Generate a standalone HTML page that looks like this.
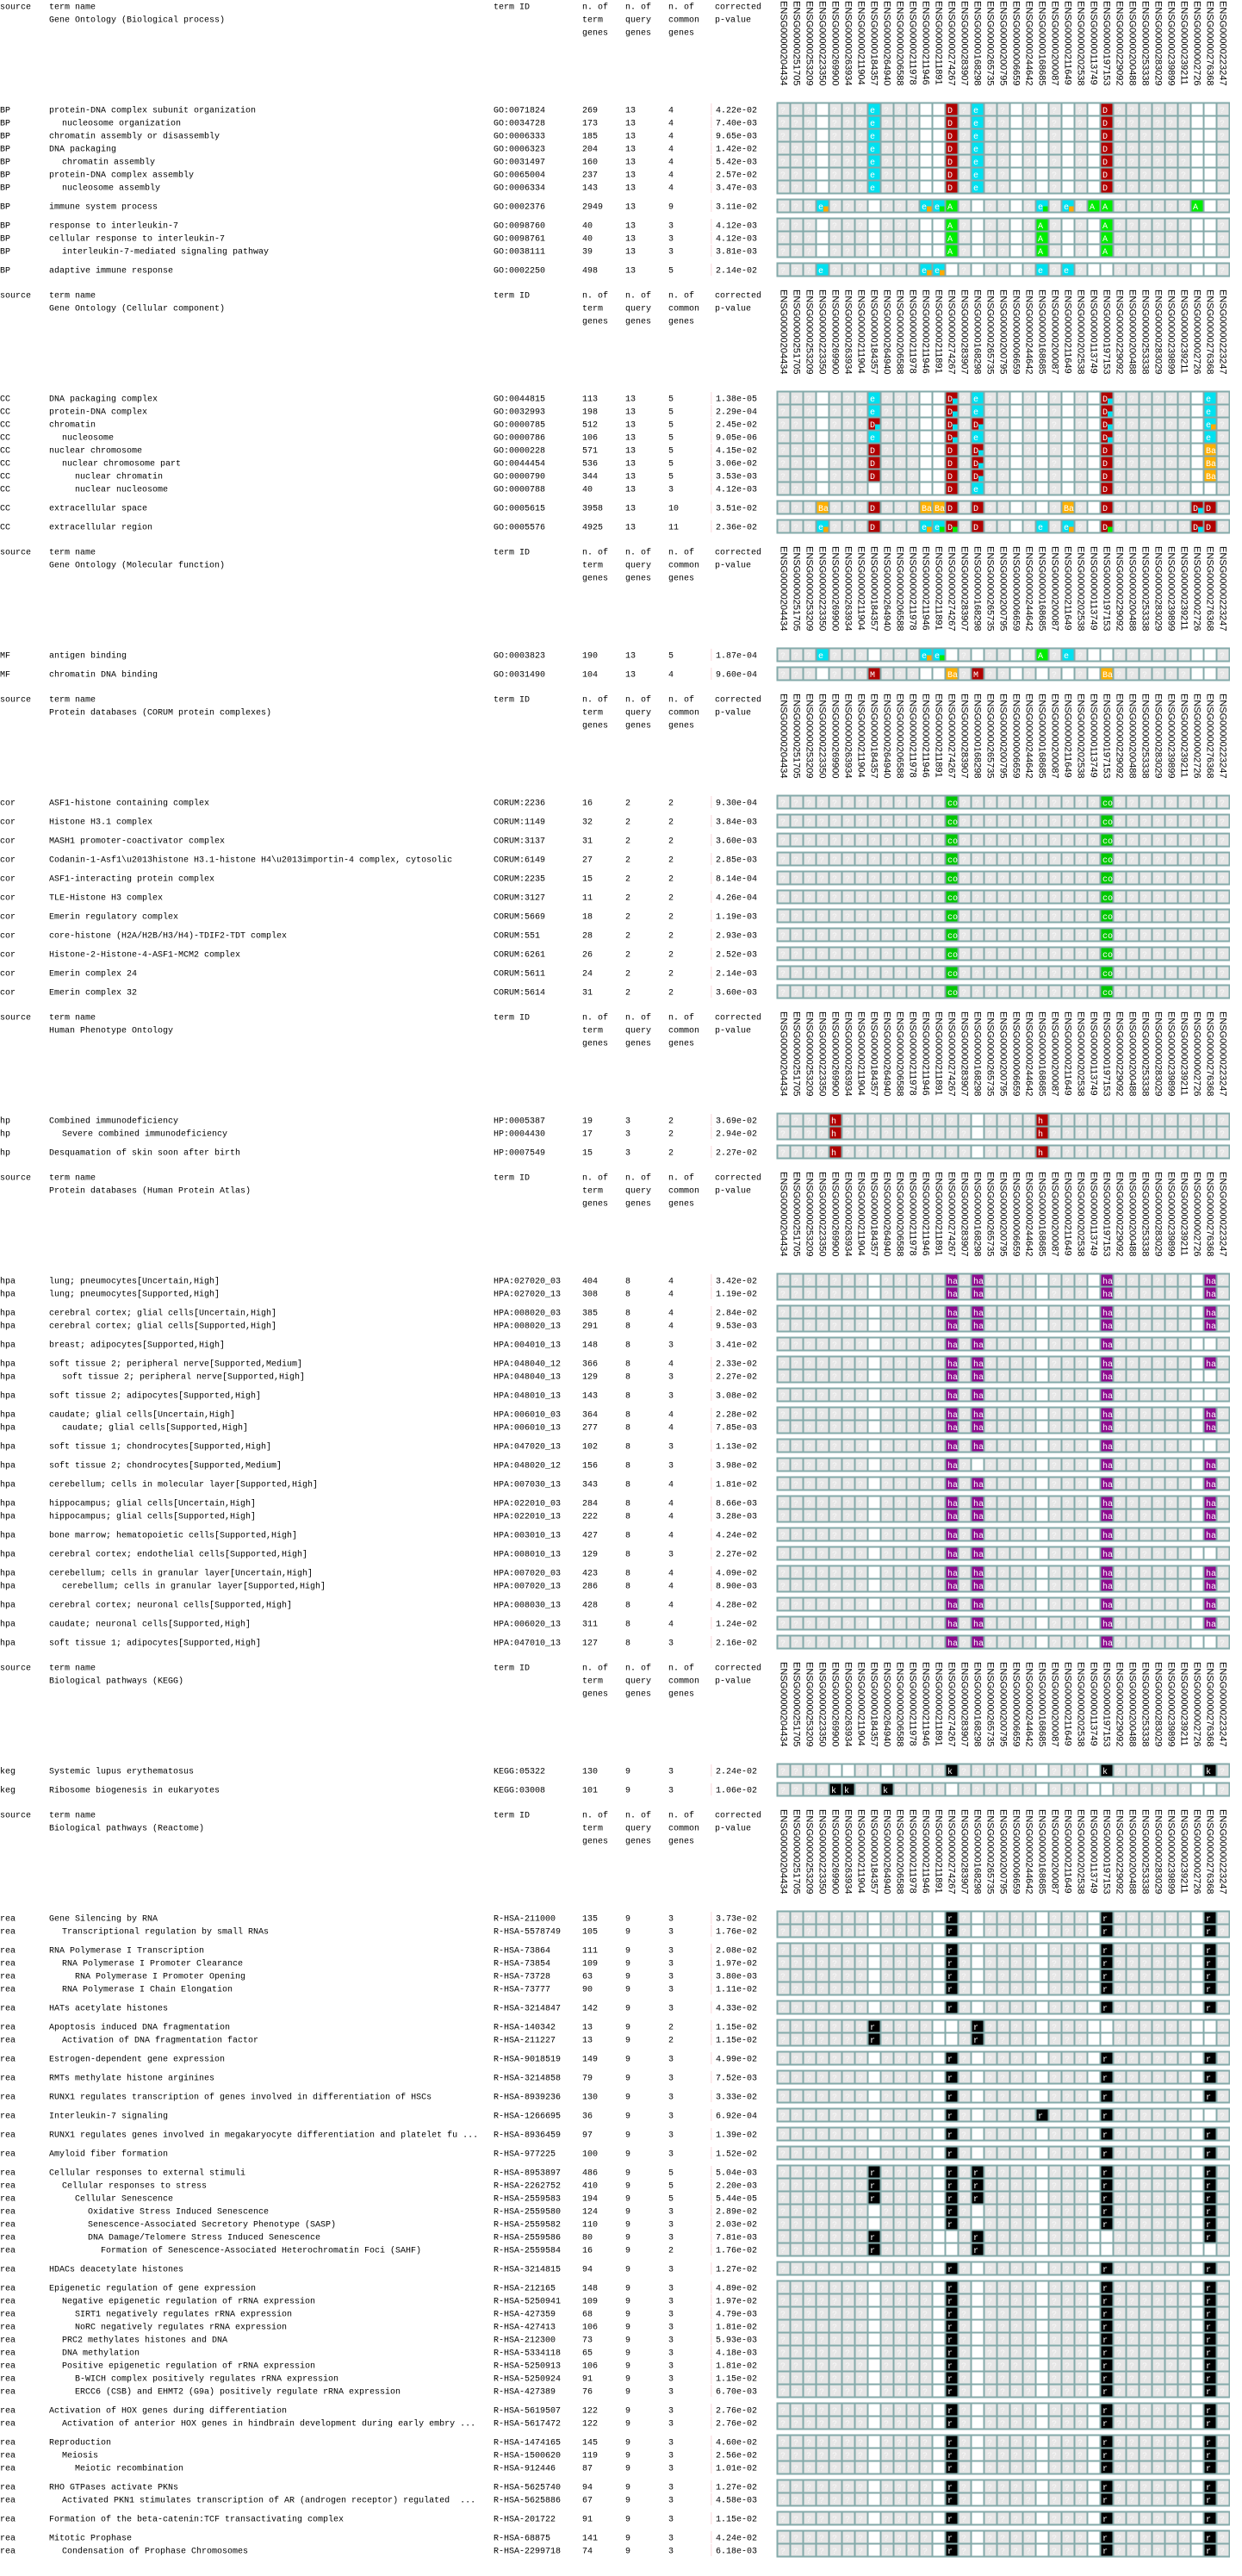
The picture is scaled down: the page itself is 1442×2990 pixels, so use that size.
<!DOCTYPE html>
<html><head><meta charset="utf-8">
<style>
html,body{margin:0;padding:0;background:#fff;}
svg{display:block;}
text{font-family:"Liberation Mono",monospace;font-size:10px;white-space:pre;}
.gl{font-family:"Liberation Sans",sans-serif;font-size:11px;}
</style></head>
<body>
<svg id="chart" width="1442" height="2990" xmlns="http://www.w3.org/2000/svg"></svg>
<script>
const genes = ["ENSG00000204434","ENSG00000251705","ENSG00000253209","ENSG00000223350","ENSG00000269900","ENSG00000263934","ENSG00000211904","ENSG00000184357","ENSG00000264940","ENSG00000206588","ENSG00000211978","ENSG00000211946","ENSG00000211891","ENSG00000274267","ENSG00000283907","ENSG00000168298","ENSG00000265735","ENSG00000200795","ENSG00000006659","ENSG00000244642","ENSG00000168685","ENSG00000200087","ENSG00000211649","ENSG00000202538","ENSG00000113749","ENSG00000197153","ENSG00000229092","ENSG00000200488","ENSG00000253338","ENSG00000283029","ENSG00000239899","ENSG00000239211","ENSG00000002726","ENSG00000276368","ENSG00000223247"];

const sectionTitles = ["Gene Ontology (Biological process)","Gene Ontology (Cellular component)","Gene Ontology (Molecular function)","Protein databases (CORUM protein complexes)","Human Phenotype Ontology","Protein databases (Human Protein Atlas)","Biological pathways (KEGG)","Biological pathways (Reactome)"];

const whiteBP = [3,7,11,12,13,15,18,20,22,24,25,32,33];
const whiteCOR = [];
const whiteHP = [15];
const whiteHPA = [7,15,20,24,32,33];
const whiteKEG = [4,5,8,13,20,24,25,32,33];
const whiteREA = [7,12,13,15,20,24,25,32,33];

// row: [source, indent, name, id, nTerm, nQuery, nCommon, pValue, newGroup, marks]
const bpRows = [
["BP",0,"protein-DNA complex subunit organization","GO:0071824",269,13,4,"4.22e-02",1,"7e 13D 15e 25D"],
["BP",1,"nucleosome organization","GO:0034728",173,13,4,"7.40e-03",0,"7e 13D 15e 25D"],
["BP",0,"chromatin assembly or disassembly","GO:0006333",185,13,4,"9.65e-03",0,"7e 13D 15e 25D"],
["BP",0,"DNA packaging","GO:0006323",204,13,4,"1.42e-02",0,"7e 13D 15e 25D"],
["BP",1,"chromatin assembly","GO:0031497",160,13,4,"5.42e-03",0,"7e 13D 15e 25D"],
["BP",0,"protein-DNA complex assembly","GO:0065004",237,13,4,"2.57e-02",0,"7e 13D 15e 25D"],
["BP",1,"nucleosome assembly","GO:0006334",143,13,4,"3.47e-03",0,"7e 13D 15e 25D"],
["BP",0,"immune system process","GO:0002376",2949,13,9,"3.11e-02",1,"3e/o 11e/o 12e/g 13A 20e/g 22e/o 24A 25A 32A"],
["BP",0,"response to interleukin-7","GO:0098760",40,13,3,"4.12e-03",1,"13A 20A 25A"],
["BP",0,"cellular response to interleukin-7","GO:0098761",40,13,3,"4.12e-03",0,"13A 20A 25A"],
["BP",1,"interleukin-7-mediated signaling pathway","GO:0038111",39,13,3,"3.81e-03",0,"13A 20A 25A"],
["BP",0,"adaptive immune response","GO:0002250",498,13,5,"2.14e-02",1,"3e 11e/o 12e/o 20e 22e"]
];
const ccRows = [
["CC",0,"DNA packaging complex","GO:0044815",113,13,5,"1.38e-05",1,"7e 13D/c 15e 25D/c 33e"],
["CC",0,"protein-DNA complex","GO:0032993",198,13,5,"2.29e-04",0,"7e 13D/c 15e 25D/c 33e"],
["CC",0,"chromatin","GO:0000785",512,13,5,"2.45e-02",0,"7D/c 13D/c 15D/c 25D/c 33e/o"],
["CC",1,"nucleosome","GO:0000786",106,13,5,"9.05e-06",0,"7e 13D/c 15e 25D/c 33e"],
["CC",0,"nuclear chromosome","GO:0000228",571,13,5,"4.15e-02",0,"7D 13D 15D/c 25D 33Ba"],
["CC",1,"nuclear chromosome part","GO:0044454",536,13,5,"3.06e-02",0,"7D 13D 15D/c 25D 33Ba"],
["CC",2,"nuclear chromatin","GO:0000790",344,13,5,"3.53e-03",0,"7D 13D 15D/c 25D 33Ba"],
["CC",2,"nuclear nucleosome","GO:0000788",40,13,3,"4.12e-03",0,"13D 15e 25D"],
["CC",0,"extracellular space","GO:0005615",3958,13,10,"3.51e-02",1,"3Ba 7D 11Ba 12Ba 13D 15D 22Ba 25D 32D/c 33D"],
["CC",0,"extracellular region","GO:0005576",4925,13,11,"2.36e-02",1,"3e/o 7D 11e/o 12e/g 13D/g 15D 20e 22e/o 25D/g 32D/c 33D"]
];
const mfRows = [
["MF",0,"antigen binding","GO:0003823",190,13,5,"1.87e-04",1,"3e 11e/o 12e/g 20A 22e"],
["MF",0,"chromatin DNA binding","GO:0031490",104,13,4,"9.60e-04",1,"7M 13Ba 15M 25Ba"]
];
const corRows = [
["cor",0,"ASF1-histone containing complex","CORUM:2236",16,2,2,"9.30e-04",1,"13co 25co"],
["cor",0,"Histone H3.1 complex","CORUM:1149",32,2,2,"3.84e-03",1,"13co 25co"],
["cor",0,"MASH1 promoter-coactivator complex","CORUM:3137",31,2,2,"3.60e-03",1,"13co 25co"],
["cor",0,"Codanin-1-Asf1\\u2013histone H3.1-histone H4\\u2013importin-4 complex, cytosolic","CORUM:6149",27,2,2,"2.85e-03",1,"13co 25co"],
["cor",0,"ASF1-interacting protein complex","CORUM:2235",15,2,2,"8.14e-04",1,"13co 25co"],
["cor",0,"TLE-Histone H3 complex","CORUM:3127",11,2,2,"4.26e-04",1,"13co 25co"],
["cor",0,"Emerin regulatory complex","CORUM:5669",18,2,2,"1.19e-03",1,"13co 25co"],
["cor",0,"core-histone (H2A/H2B/H3/H4)-TDIF2-TDT complex","CORUM:551",28,2,2,"2.93e-03",1,"13co 25co"],
["cor",0,"Histone-2-Histone-4-ASF1-MCM2 complex","CORUM:6261",26,2,2,"2.52e-03",1,"13co 25co"],
["cor",0,"Emerin complex 24","CORUM:5611",24,2,2,"2.14e-03",1,"13co 25co"],
["cor",0,"Emerin complex 32","CORUM:5614",31,2,2,"3.60e-03",1,"13co 25co"]
];
const hpRows = [
["hp",0,"Combined immunodeficiency","HP:0005387",19,3,2,"3.69e-02",1,"4h 20h"],
["hp",1,"Severe combined immunodeficiency","HP:0004430",17,3,2,"2.94e-02",0,"4h 20h"],
["hp",0,"Desquamation of skin soon after birth","HP:0007549",15,3,2,"2.27e-02",1,"4h 20h"]
];
const hpaRows = [
["hpa",0,"lung; pneumocytes[Uncertain,High]","HPA:027020_03",404,8,4,"3.42e-02",1,"13ha 15ha 25ha 33ha"],
["hpa",0,"lung; pneumocytes[Supported,High]","HPA:027020_13",308,8,4,"1.19e-02",0,"13ha 15ha 25ha 33ha"],
["hpa",0,"cerebral cortex; glial cells[Uncertain,High]","HPA:008020_03",385,8,4,"2.84e-02",1,"13ha 15ha 25ha 33ha"],
["hpa",0,"cerebral cortex; glial cells[Supported,High]","HPA:008020_13",291,8,4,"9.53e-03",0,"13ha 15ha 25ha 33ha"],
["hpa",0,"breast; adipocytes[Supported,High]","HPA:004010_13",148,8,3,"3.41e-02",1,"13ha 15ha 25ha"],
["hpa",0,"soft tissue 2; peripheral nerve[Supported,Medium]","HPA:048040_12",366,8,4,"2.33e-02",1,"13ha 15ha 25ha 33ha"],
["hpa",1,"soft tissue 2; peripheral nerve[Supported,High]","HPA:048040_13",129,8,3,"2.27e-02",0,"13ha 15ha 25ha"],
["hpa",0,"soft tissue 2; adipocytes[Supported,High]","HPA:048010_13",143,8,3,"3.08e-02",1,"13ha 15ha 25ha"],
["hpa",0,"caudate; glial cells[Uncertain,High]","HPA:006010_03",364,8,4,"2.28e-02",1,"13ha 15ha 25ha 33ha"],
["hpa",1,"caudate; glial cells[Supported,High]","HPA:006010_13",277,8,4,"7.85e-03",0,"13ha 15ha 25ha 33ha"],
["hpa",0,"soft tissue 1; chondrocytes[Supported,High]","HPA:047020_13",102,8,3,"1.13e-02",1,"13ha 15ha 25ha"],
["hpa",0,"soft tissue 2; chondrocytes[Supported,Medium]","HPA:048020_12",156,8,3,"3.98e-02",1,"13ha 25ha 33ha"],
["hpa",0,"cerebellum; cells in molecular layer[Supported,High]","HPA:007030_13",343,8,4,"1.81e-02",1,"13ha 15ha 25ha 33ha"],
["hpa",0,"hippocampus; glial cells[Uncertain,High]","HPA:022010_03",284,8,4,"8.66e-03",1,"13ha 15ha 25ha 33ha"],
["hpa",0,"hippocampus; glial cells[Supported,High]","HPA:022010_13",222,8,4,"3.28e-03",0,"13ha 15ha 25ha 33ha"],
["hpa",0,"bone marrow; hematopoietic cells[Supported,High]","HPA:003010_13",427,8,4,"4.24e-02",1,"13ha 15ha 25ha 33ha"],
["hpa",0,"cerebral cortex; endothelial cells[Supported,High]","HPA:008010_13",129,8,3,"2.27e-02",1,"13ha 15ha 25ha"],
["hpa",0,"cerebellum; cells in granular layer[Uncertain,High]","HPA:007020_03",423,8,4,"4.09e-02",1,"13ha 15ha 25ha 33ha"],
["hpa",1,"cerebellum; cells in granular layer[Supported,High]","HPA:007020_13",286,8,4,"8.90e-03",0,"13ha 15ha 25ha 33ha"],
["hpa",0,"cerebral cortex; neuronal cells[Supported,High]","HPA:008030_13",428,8,4,"4.28e-02",1,"13ha 15ha 25ha 33ha"],
["hpa",0,"caudate; neuronal cells[Supported,High]","HPA:006020_13",311,8,4,"1.24e-02",1,"13ha 15ha 25ha 33ha"],
["hpa",0,"soft tissue 1; adipocytes[Supported,High]","HPA:047010_13",127,8,3,"2.16e-02",1,"13ha 15ha 25ha"]
];
const kegRows = [
["keg",0,"Systemic lupus erythematosus","KEGG:05322",130,9,3,"2.24e-02",1,"13k 25k 33k"],
["keg",0,"Ribosome biogenesis in eukaryotes","KEGG:03008",101,9,3,"1.06e-02",1,"4k 5k 8k"]
];
const R3 = "13r 25r 33r";
const reaRows = [
["rea",0,"Gene Silencing by RNA","R-HSA-211000",135,9,3,"3.73e-02",1,R3],
["rea",1,"Transcriptional regulation by small RNAs","R-HSA-5578749",105,9,3,"1.76e-02",0,R3],
["rea",0,"RNA Polymerase I Transcription","R-HSA-73864",111,9,3,"2.08e-02",1,R3],
["rea",1,"RNA Polymerase I Promoter Clearance","R-HSA-73854",109,9,3,"1.97e-02",0,R3],
["rea",2,"RNA Polymerase I Promoter Opening","R-HSA-73728",63,9,3,"3.80e-03",0,R3],
["rea",1,"RNA Polymerase I Chain Elongation","R-HSA-73777",90,9,3,"1.11e-02",0,R3],
["rea",0,"HATs acetylate histones","R-HSA-3214847",142,9,3,"4.33e-02",1,R3],
["rea",0,"Apoptosis induced DNA fragmentation","R-HSA-140342",13,9,2,"1.15e-02",1,"7r 15r"],
["rea",1,"Activation of DNA fragmentation factor","R-HSA-211227",13,9,2,"1.15e-02",0,"7r 15r"],
["rea",0,"Estrogen-dependent gene expression","R-HSA-9018519",149,9,3,"4.99e-02",1,R3],
["rea",0,"RMTs methylate histone arginines","R-HSA-3214858",79,9,3,"7.52e-03",1,R3],
["rea",0,"RUNX1 regulates transcription of genes involved in differentiation of HSCs","R-HSA-8939236",130,9,3,"3.33e-02",1,R3],
["rea",0,"Interleukin-7 signaling","R-HSA-1266695",36,9,3,"6.92e-04",1,"13r 20r 25r"],
["rea",0,"RUNX1 regulates genes involved in megakaryocyte differentiation and platelet fu ...","R-HSA-8936459",97,9,3,"1.39e-02",1,R3],
["rea",0,"Amyloid fiber formation","R-HSA-977225",100,9,3,"1.52e-02",1,R3],
["rea",0,"Cellular responses to external stimuli","R-HSA-8953897",486,9,5,"5.04e-03",1,"7r 13r 15r 25r 33r"],
["rea",1,"Cellular responses to stress","R-HSA-2262752",410,9,5,"2.20e-03",0,"7r 13r 15r 25r 33r"],
["rea",2,"Cellular Senescence","R-HSA-2559583",194,9,5,"5.44e-05",0,"7r 13r 15r 25r 33r"],
["rea",3,"Oxidative Stress Induced Senescence","R-HSA-2559580",124,9,3,"2.89e-02",0,R3],
["rea",3,"Senescence-Associated Secretory Phenotype (SASP)","R-HSA-2559582",110,9,3,"2.03e-02",0,R3],
["rea",3,"DNA Damage/Telomere Stress Induced Senescence","R-HSA-2559586",80,9,3,"7.81e-03",0,"7r 15r 33r"],
["rea",4,"Formation of Senescence-Associated Heterochromatin Foci (SAHF)","R-HSA-2559584",16,9,2,"1.76e-02",0,"7r 15r"],
["rea",0,"HDACs deacetylate histones","R-HSA-3214815",94,9,3,"1.27e-02",1,R3],
["rea",0,"Epigenetic regulation of gene expression","R-HSA-212165",148,9,3,"4.89e-02",1,R3],
["rea",1,"Negative epigenetic regulation of rRNA expression","R-HSA-5250941",109,9,3,"1.97e-02",0,R3],
["rea",2,"SIRT1 negatively regulates rRNA expression","R-HSA-427359",68,9,3,"4.79e-03",0,R3],
["rea",2,"NoRC negatively regulates rRNA expression","R-HSA-427413",106,9,3,"1.81e-02",0,R3],
["rea",1,"PRC2 methylates histones and DNA","R-HSA-212300",73,9,3,"5.93e-03",0,R3],
["rea",1,"DNA methylation","R-HSA-5334118",65,9,3,"4.18e-03",0,R3],
["rea",1,"Positive epigenetic regulation of rRNA expression","R-HSA-5250913",106,9,3,"1.81e-02",0,R3],
["rea",2,"B-WICH complex positively regulates rRNA expression","R-HSA-5250924",91,9,3,"1.15e-02",0,R3],
["rea",2,"ERCC6 (CSB) and EHMT2 (G9a) positively regulate rRNA expression","R-HSA-427389",76,9,3,"6.70e-03",0,R3],
["rea",0,"Activation of HOX genes during differentiation","R-HSA-5619507",122,9,3,"2.76e-02",1,R3],
["rea",1,"Activation of anterior HOX genes in hindbrain development during early embry ...","R-HSA-5617472",122,9,3,"2.76e-02",0,R3],
["rea",0,"Reproduction","R-HSA-1474165",145,9,3,"4.60e-02",1,R3],
["rea",1,"Meiosis","R-HSA-1500620",119,9,3,"2.56e-02",0,R3],
["rea",2,"Meiotic recombination","R-HSA-912446",87,9,3,"1.01e-02",0,R3],
["rea",0,"RHO GTPases activate PKNs","R-HSA-5625740",94,9,3,"1.27e-02",1,R3],
["rea",1,"Activated PKN1 stimulates transcription of AR (androgen receptor) regulated  ...","R-HSA-5625886",67,9,3,"4.58e-03",0,R3],
["rea",0,"Formation of the beta-catenin:TCF transactivating complex","R-HSA-201722",91,9,3,"1.15e-02",1,R3],
["rea",0,"Mitotic Prophase","R-HSA-68875",141,9,3,"4.24e-02",1,R3],
["rea",1,"Condensation of Prophase Chromosomes","R-HSA-2299718",74,9,3,"6.18e-03",0,R3]
];

const sectionRows = [bpRows, ccRows, mfRows, corRows, hpRows, hpaRows, kegRows, reaRows];
const sectionWhite = [whiteBP, whiteBP, whiteBP, whiteCOR, whiteHP, whiteHPA, whiteKEG, whiteREA];

const codeColor = {e:"#00e1f0",D:"#b00000",M:"#b00000",h:"#b00000",A:"#00ee00",Ba:"#ffb000",co:"#00c800",ha:"#8e0a8e",k:"#000000",r:"#000000"};
const subColor = {o:"#ffaa00",g:"#00ee00",c:"#00e1f0"};

const NS = "http://www.w3.org/2000/svg";
const svg = document.getElementById("chart");
const GX = 903, CW = 15;
const colX = i => GX + CW * i;
function mk(tag, attrs, parent) {
  const el = document.createElementNS(NS, tag);
  for (const k in attrs) el.setAttribute(k, attrs[k]);
  (parent || svg).appendChild(el);
  return el;
}
function txt(x, y, s, parent, cls) {
  const t = mk("text", {x: x, y: y}, parent);
  if (cls) t.setAttribute("class", cls);
  t.textContent = s;
  return t;
}

let hy = 7;
sectionRows.forEach((rows, si) => {
  const head = mk("g", {});
  
  
  const b1 = hy + 3.5, b2 = hy + 18.5, b3 = hy + 33.5;
  txt(0, b1, "source", head); txt(57, b1, "term name", head); txt(573, b1, "term ID", head);
  txt(676, b1, "n. of", head); txt(726, b1, "n. of", head); txt(776, b1, "n. of", head); txt(830, b1, "corrected", head);
  const st = txt(57, b2, sectionTitles[si], head);
  
  
  txt(676, b2, "term", head); txt(726, b2, "query", head); txt(776, b2, "common", head); txt(830, b2, "p-value", head);
  txt(676, b3, "genes", head); txt(726, b3, "genes", head); txt(776, b3, "genes", head);
  genes.forEach((g, i) => {
    const cx = colX(i) + 7.5;
    const t = mk("text", {x: 0, y: 0, transform: "translate(" + (cx - 4) + "," + (hy - 6) + ") rotate(90)"}, head);
    t.setAttribute("class", "gl");
    
    
    t.textContent = g;
  });

  // compute row centers
  const ys = [];
  let y = hy + 120;
  rows.forEach((r, i) => { if (i > 0) y += r[8] ? 22 : 15; ys.push(y); });
  // group backgrounds
  let gs = 0;
  for (let i = 0; i <= rows.length; i++) {
    if (i === rows.length || (i > 0 && rows[i][8])) {
      const bg = mk("rect", {x: GX - 1.5, y: ys[gs] - 8.5, width: CW * 35 + 1.5, height: ys[i - 1] - ys[gs] + 17, fill: "#84aaaa"});
      
      
      gs = i;
    }
  }
  const white = sectionWhite[si];
  rows.forEach((r, ri) => {
    const cy = ys[ri];
    const row = mk("g", {});
    
    
    const bl = cy + 3.5;
    txt(0, bl, r[0], row);
    txt(57 + 15 * r[1], bl, r[2], row);
    txt(573, bl, r[3], row);
    txt(676, bl, String(r[4]), row);
    txt(726, bl, String(r[5]), row);
    txt(776, bl, String(r[6]), row);
    mk("rect", {x: 825, y: cy - 7, width: 1.5, height: 14, fill: "#fbe3e6"}, row);
    txt(831, bl, r[7], row);
    const marks = {};
    r[9].split(" ").forEach(tok => {
      const m = tok.match(/^(\d+)([A-Za-z]+)(?:\/(\w))?$/);
      if (m) marks[+m[1]] = {code: m[2], sub: m[3]};
    });
    for (let c = 0; c < 35; c++) {
      const x = colX(c) + 0.5, top = cy - 6.5;
      const mark = marks[c];
      let fill = white.indexOf(c) >= 0 ? "#ffffff" : "#e6e6e6";
      if (mark) fill = codeColor[mark.code];
      const cell = mk("rect", {x: x, y: top, width: 13, height: 13, fill: fill}, row);
      
      
      if (mark) {
        const t = txt(x + 1.5, cy + 4, mark.code, row);
        t.setAttribute("fill", "#ffffff");
        if (mark.sub) mk("rect", {x: x + 7.5, y: top + 7, width: 5.5, height: 6, fill: subColor[mark.sub]}, row);
      } else if (fill === "#e6e6e6") {
        const t = txt(x + 2.5, cy + 4, "?", row);
        t.setAttribute("fill", "#f8f8f8");
      }
    }
  });
  hy = ys[ys.length - 1] + 29;
});
</script>
</body></html>
